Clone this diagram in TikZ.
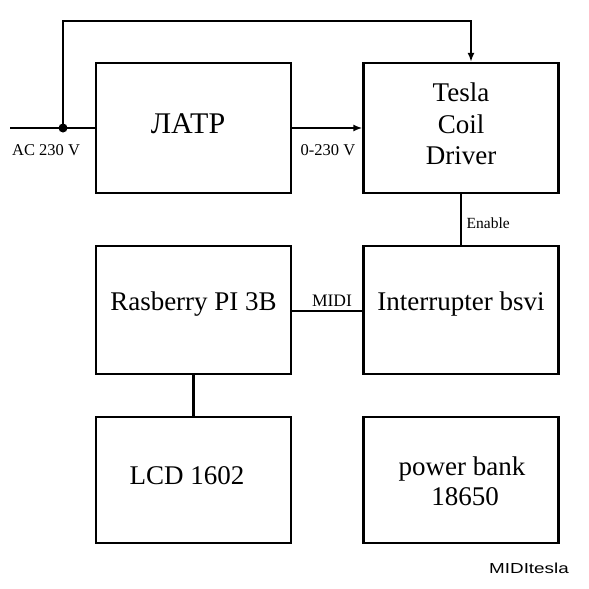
\documentclass[tikz,border=0pt]{standalone}
\usepackage{fontspec}
\setmainfont{Liberation Serif}
\newfontfamily\labelsans{Liberation Sans}
\usetikzlibrary{arrows.meta}
\begin{document}
\begin{tikzpicture}[x=1pt,y=-1pt,
  blockbox/.style={draw,line width=2.2pt,minimum width=195pt,minimum height=130pt,inner sep=0pt,
     font=\fontsize{27}{32}\selectfont,align=center},
  wire/.style={line width=2.2pt},
  arr/.style={wire,-{Latex[length=9pt,width=7pt]}},
  smalllab/.style={font=\fontsize{16.5}{18}\selectfont,inner sep=0pt}]
\useasboundingbox (0,0) rectangle (589,589);
\fill[white] (0,0) rectangle (589,589);
\node[blockbox] (latr) at (193.5,128) {};
\node[font=\fontsize{30}{32}\selectfont] (latrt) at (188,124) {ЛАТР};
\node[blockbox] (tesla) at (461,128) {};
\node[font=\fontsize{27}{31.5}\selectfont,align=center] (teslat) at (461,124) {Tesla\\Coil\\Driver};
\node[blockbox,minimum height=128pt] (rpi) at (193.5,310) {};
\node[font=\fontsize{27}{31}\selectfont] (rpit) at (193.5,304) {Rasberry PI 3B};
\node[blockbox,minimum height=128pt] (intr) at (461,310) {};
\node[font=\fontsize{27}{31}\selectfont] (intrt) at (461,304) {Interrupter bsvi};
\node[blockbox,minimum height=126pt] (lcd) at (193.5,480) {};
\node[font=\fontsize{27}{31}\selectfont] (lcdt) at (187,476) {LCD 1602};
\node[blockbox,minimum height=126pt] (pb) at (461,480) {};
\node[font=\fontsize{27}{30}\selectfont,align=center] (pbt) at (462,481) {power bank\\\hspace*{6pt}18650};
% input
\coordinate (in) at (10,128);
\coordinate (j) at (63,128);
\coordinate (tl) at (63,21);
\coordinate (tr) at (471,21);
\draw[wire] (in) -- (latr.west);
\fill (j) circle (4.5pt);
\draw[arr] (j) -- (tl) -- (tr) -- (tr |- tesla.north);
\draw[arr] (latr.east) -- (tesla.west);
\draw[wire] (tesla.south -| 461,0) -- (intr.north -| 461,0);
\draw[wire] (rpi.east |- 0,311) -- (intr.west |- 0,311);
\draw[wire] (rpi.south) -- (lcd.north);
% labels
\node[smalllab,anchor=base west] (aclab) at (12,155.5) {AC 230 V};
\node[smalllab,anchor=base west] (vlab) at (300.5,155) {0-230 V};
\node[smalllab,anchor=base west,font=\fontsize{15.5}{18}\selectfont] (enlab) at (466.5,228) {Enable};
\node[smalllab,anchor=base,font=\fontsize{17.5}{18}\selectfont] (midilab) at (332,306) {MIDI};
\node[anchor=base west,inner sep=0pt,font=\labelsans\fontsize{14.5}{16}\selectfont] (ttl) at (489,573) {\scalebox{1.3}[1]{MIDItesla}};
\end{tikzpicture}
\end{document}
